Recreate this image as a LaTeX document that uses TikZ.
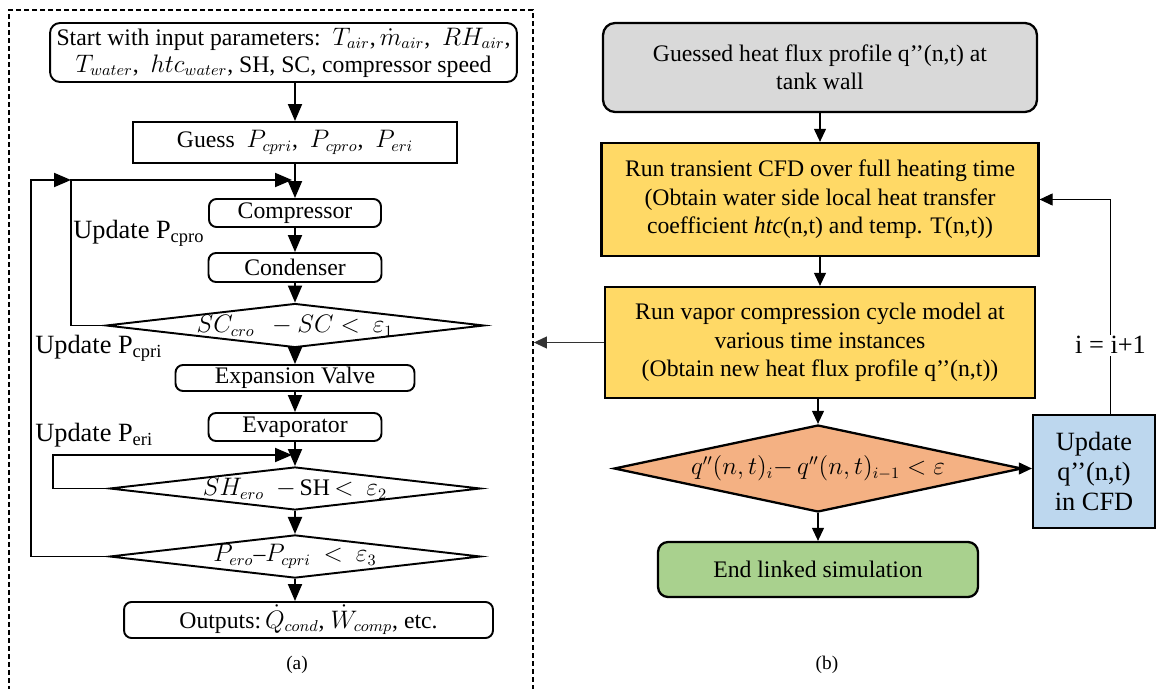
\documentclass[tikz,border=0pt]{standalone}
\usepackage{fontspec}
\setmainfont{Liberation Serif}
\usepackage{amsmath}
\usetikzlibrary{arrows.meta}
\usetikzlibrary{shapes.geometric}
\definecolor{colorGQ}{HTML}{D9D9D9}
\definecolor{colorRUN}{HTML}{FFD966}
\definecolor{colorCHK}{HTML}{F4B183}
\definecolor{colorEND}{HTML}{A9D18E}
\definecolor{colorUPD}{HTML}{BDD7EE}
\tikzset{
   flow/.style={-{Triangle[length=3.4mm,width=2.8mm]},line width=1.1pt},
   link/.style={-{Triangle[length=2.6mm,width=2.4mm]},line width=0.6pt},
   frame/.style={draw,line width=1.1pt,dash pattern=on 1mm off 0.6mm,inner sep=0pt},
   procbox/.style={draw,line width=1.1pt,align=center,inner sep=0pt,font=\fontsize{13.5}{15.3}\selectfont},
   termbox/.style={procbox,rounded corners=1.5mm},
   testbox/.style={draw,diamond,aspect=8.6,line width=1.1pt,inner sep=0pt,
      minimum width=7.42cm,minimum height=0.86cm,font=\fontsize{13.5}{15.3}\selectfont},
   runbox/.style={draw,line width=1.3pt,align=center,inner sep=0pt,font=\fontsize{13.5}{16.2}\selectfont},
   chkbox/.style={draw,diamond,aspect=4.7,line width=1.3pt,inner sep=0pt,fill=colorCHK,
      minimum width=8.16cm,minimum height=1.74cm,font=\fontsize{13.5}{16.2}\selectfont},
   note/.style={anchor=west,inner sep=0pt,font=\fontsize{15}{17}\selectfont},
   caption/.style={inner sep=0pt,font=\fontsize{11}{13}\selectfont},
}
\begin{document}
\begin{tikzpicture}[x=0.02cm,y=-0.02cm]
        \useasboundingbox (0,0) rectangle (1157,689);

        % (a) vapor compression cycle model
        \node[frame, minimum width=10.48cm, minimum height=14cm] (pa) at (271,360) {};

        \node[termbox, rounded corners=2mm, minimum width=9.34cm, minimum height=1.18cm] (start) at (283.5,52.5)
             {Start with input parameters:\ \ $T_{air}$,\,$\dot{m}_{air}$,\ \ $RH_{air}$,\\
              $T_{water}$,\ \ $htc_{water}$, SH, SC, compressor speed};
        \node[procbox, minimum width=6.48cm, minimum height=0.82cm] (guess) at (295,142.5)
             {Guess\ \ $P_{cpri}$,\ \ $P_{cpro}$,\ \ $P_{eri}$};
        \node[termbox, minimum width=3.44cm, minimum height=0.56cm] (comp) at (295,213) {Compressor};
        \node[termbox, minimum width=3.46cm, minimum height=0.58cm] (cond) at (295,267.5) {Condenser};
        \node[testbox] (dsc) at (295,325.5) {$SC_{cro}\ \ - SC <\ \varepsilon_1$};
        \node[termbox, minimum width=4.78cm, minimum height=0.52cm] (valve) at (295,378) {Expansion Valve};
        \node[termbox, minimum width=3.46cm, minimum height=0.56cm] (evap) at (295,427) {Evaporator};
        \node[testbox] (dsh) at (295,488.5) {$SH_{ero}\ \ -$\,SH$\,<\ \varepsilon_2$};
        \node[testbox] (dp) at (295,556.5) {$P_{ero}${--}$P_{cpri}\ <\ \varepsilon_3$};
        \node[termbox, minimum width=7.38cm, minimum height=0.72cm] (out) at (308.5,620)
             {Outputs:\,$\dot{Q}_{cond}$,\ $\dot{W}_{comp}$, etc.};
        \node[caption] (capa) at (297,665) {(a)};

        \node[note] (ucpro) at (73,233) {Update P\textsubscript{cpro}};
        \node[note] (ucpri) at (35,348) {Update P\textsubscript{cpri}};
        \node[note] (ueri) at (35,435) {Update P\textsubscript{eri}};

        \coordinate (j1) at (295,180);
        \coordinate (k1) at (71,180);
        \coordinate (j2) at (295,455);

        \draw[flow] (start.south -| guess.north) -- (guess.north);
        \draw[flow] (guess.south) -- (comp.north);
        \draw[flow] (comp.south) -- (cond.north);
        \draw[flow] (cond.south) -- (dsc.north);
        \draw[flow] (dsc.south) -- (valve.north);
        \draw[flow] (valve.south) -- (evap.north);
        \draw[flow] (evap.south) -- (dsh.north);
        \draw[flow] (dsh.south) -- (dp.north);
        \draw[flow] (dp.south) -- (dp.south |- out.north);

        \draw[flow, shorten >=0.6mm] (dsc.west) -| (k1) -- (j1);
        \draw[flow] (dp.west) -- ++(-78,0) |- (k1);
        \draw[flow, shorten >=0.6mm] (dsh.west) -- ++(-56,0) |- (j2);

        % (b) linked simulation
        \node[runbox, rounded corners=2.4mm, fill=colorGQ, minimum width=8.68cm, minimum height=1.78cm] (gq) at (820,67.5)
             {Guessed heat flux profile q’’(n,t) at\\tank wall};
        \node[runbox, fill=colorRUN, minimum width=8.74cm, minimum height=2.26cm] (cfd) at (820,199.5)
             {Run transient CFD over full heating time\\(Obtain water side local heat transfer\\
              coefficient \textit{htc}(n,t) and temp. T(n,t))};
        \node[runbox, fill=colorRUN, minimum width=8.6cm, minimum height=2.22cm] (vcc) at (820,342.5)
             {Run vapor compression cycle model at\\various time instances\\
              (Obtain new heat flux profile q’’(n,t))};
        \node[chkbox] (conv) at (818,468.5) {$q''(n,t)_i{-}\,q''(n,t)_{i-1} < \varepsilon$};
        \node[runbox, rounded corners=2mm, fill=colorEND, minimum width=6.4cm, minimum height=1.1cm] (fin) at (818,569.5)
             {End linked simulation};
        \node[runbox, fill=colorUPD, minimum width=2.44cm, minimum height=2.26cm,
              font=\fontsize{15}{17}\selectfont] (upd) at (1094,471.5) {Update\\q’’(n,t)\\in CFD};
        \node[caption] (capb) at (827,665) {(b)};

        \draw[link] (gq.south) -- (gq.south |- cfd.north);
        \draw[link] (cfd.south) -- (cfd.south |- vcc.north);
        \draw[link] (vcc.south -| conv.north) -- (conv.north);
        \draw[link] (conv.south) -- (fin.north);
        \draw[link] (conv.east) -- (conv.east -| upd.west);
        \draw[link] (upd.74) |- (cfd.east)
             node[pos=0.16, fill=white, inner sep=1pt, font=\fontsize{15}{17}\selectfont] {i = i+1};
        \draw[link, black!80] (vcc.west) -- (vcc.west -| pa.east);
      \end{tikzpicture}
\end{document}
